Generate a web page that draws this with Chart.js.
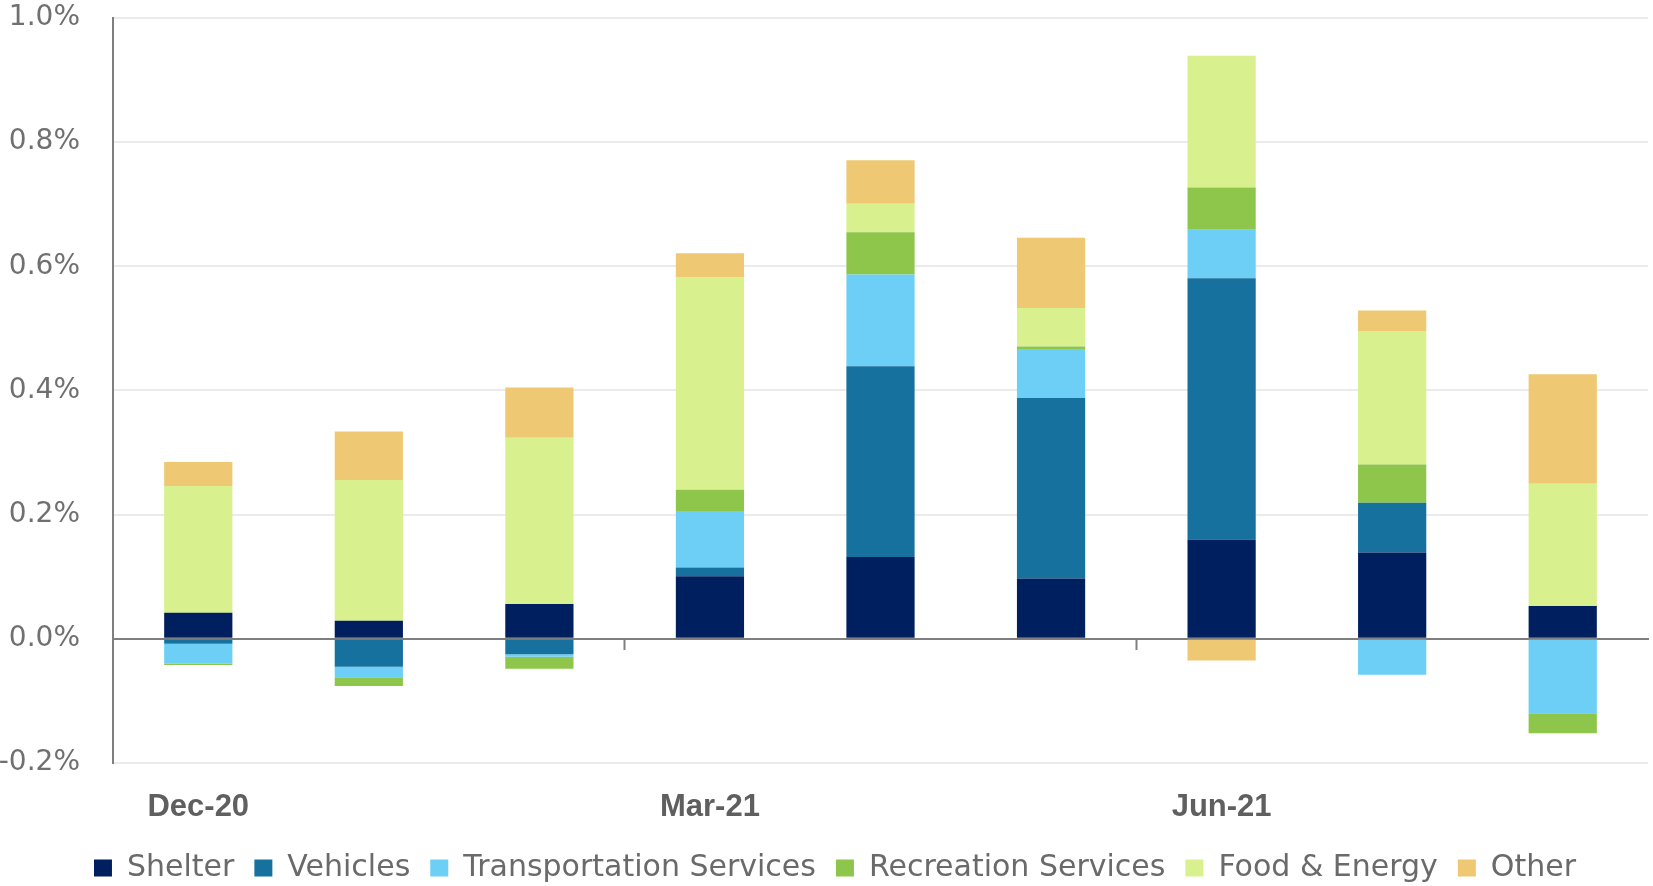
<!DOCTYPE html>
<html lang="en">

<head>
    <meta charset="UTF-8">
    <title>CPI contributions</title>
    <script src="https://cdn.jsdelivr.net/npm/chart.js"></script>
    <style>
        html, body {
            margin: 0;
            padding: 0;
            background: #fff;
        }

        .chart-box {
            width: 1653px;
            height: 886px;
        }
    </style>
</head>

<body>
    <div class="chart-box">
        <canvas id="cpiChart"></canvas>
    </div>

    <script>
        // months on the x axis (only every third one is labelled)
        const months = ['Dec-20', 'Jan-21', 'Feb-21', 'Mar-21', 'Apr-21', 'May-21', 'Jun-21', 'Jul-21', 'Aug-21'];

        // contribution of each component, percentage points
        const shelter = [0.042, 0.029, 0.056, 0.101, 0.132, 0.097, 0.160, 0.139, 0.053];
        const vehicles = [-0.008, -0.045, -0.025, 0.014, 0.307, 0.291, 0.421, 0.080, 0];
        const transportation = [-0.032, -0.017, -0.004, 0.091, 0.148, 0.079, 0.078, -0.058, -0.120];
        const recreation = [-0.002, -0.014, -0.019, 0.034, 0.068, 0.004, 0.068, 0.062, -0.032];
        const foodEnergy = [0.204, 0.227, 0.268, 0.342, 0.046, 0.062, 0.212, 0.215, 0.197];
        const other = [0.039, 0.078, 0.081, 0.039, 0.070, 0.113, -0.035, 0.033, 0.176];

        const yTicks = [-0.2, 0, 0.2, 0.4, 0.6, 0.8, 1.0];

        const grey = '#7f7f7f';
        const sans = 'DejaVu Sans, Verdana, sans-serif';
        const arial = 'Liberation Sans, Arial, sans-serif';

        function series(label, data, color) {
            return {
                label: label,
                data: data,
                backgroundColor: color,
                borderWidth: 0,
                barPercentage: 0.8,
                categoryPercentage: 0.5,
                xAxisID: 'x'
            };
        }

        // nudge the legend a little to the right, like the original
        const legendShift = {
            id: 'legendShift',
            afterLayout(chart) {
                if (chart.legend) chart.legend.left += 22;
            }
        };

        const cpiChart = new Chart(document.getElementById('cpiChart'), {
            type: 'bar',
            data: {
                labels: months,
                datasets: [
                    series('Shelter', shelter, '#001f5f'),
                    series('Vehicles', vehicles, '#17719f'),
                    series('Transportation Services', transportation, '#6dcff6'),
                    series('Recreation Services', recreation, '#8dc64a'),
                    series('Food & Energy', foodEnergy, '#d8f08d'),
                    series('Other', other, '#eec872')
                ]
            },
            plugins: [legendShift],
            options: {
                responsive: true,
                maintainAspectRatio: false,
                animation: false,
                layout: {
                    padding: { top: 18, right: 5, bottom: -7, left: 0 }
                },
                plugins: {
                    tooltip: { enabled: false },
                    legend: {
                        position: 'bottom',
                        labels: {
                            boxWidth: 18,
                            boxHeight: 17,
                            padding: 20,
                            color: '#6a6a6a',
                            font: { family: sans, size: 30 }
                        }
                    }
                },
                scales: {
                    x: {
                        stacked: true,
                        afterFit: s => { s.height = 70; },
                        grid: { display: false },
                        border: { display: false },
                        ticks: {
                            autoSkip: false,
                            maxRotation: 0,
                            padding: 18,
                            color: '#5f5f5f',
                            font: { family: arial, size: 31, weight: 'bold' },
                            callback: (v, i) => (i % 3 === 0 ? months[i] : '')
                        }
                    },
                    // axis line sitting on zero, with ticks every quarter
                    x2: {
                        type: 'category',
                        labels: months,
                        position: { y: 0 },
                        offset: true,
                        afterFit: s => { s.height = 0; },
                        grid: {
                            offset: true,
                            drawOnChartArea: false,
                            drawTicks: true,
                            tickLength: 10,
                            tickWidth: 2,
                            color: ctx => (ctx.index > 0 && ctx.index % 3 === 0 ? grey : 'rgba(0,0,0,0)')
                        },
                        border: { display: true, color: grey, width: 2 },
                        ticks: { display: false }
                    },
                    y: {
                        stacked: true,
                        min: -0.2,
                        max: 1.0,
                        afterBuildTicks: s => { s.ticks = yTicks.map(v => ({ value: v })); },
                        afterFit: s => { s.width = 113; },
                        grid: {
                            color: '#ebebeb',
                            lineWidth: 2,
                            drawTicks: true,
                            tickLength: 33,
                            tickColor: 'rgba(0,0,0,0)'
                        },
                        border: { display: true, color: grey, width: 2 },
                        ticks: {
                            padding: 0,
                            color: '#707070',
                            font: { family: sans, size: 28 },
                            callback: v => v.toFixed(1) + '%'
                        }
                    }
                }
            }
        });
    </script>
</body>

</html>
